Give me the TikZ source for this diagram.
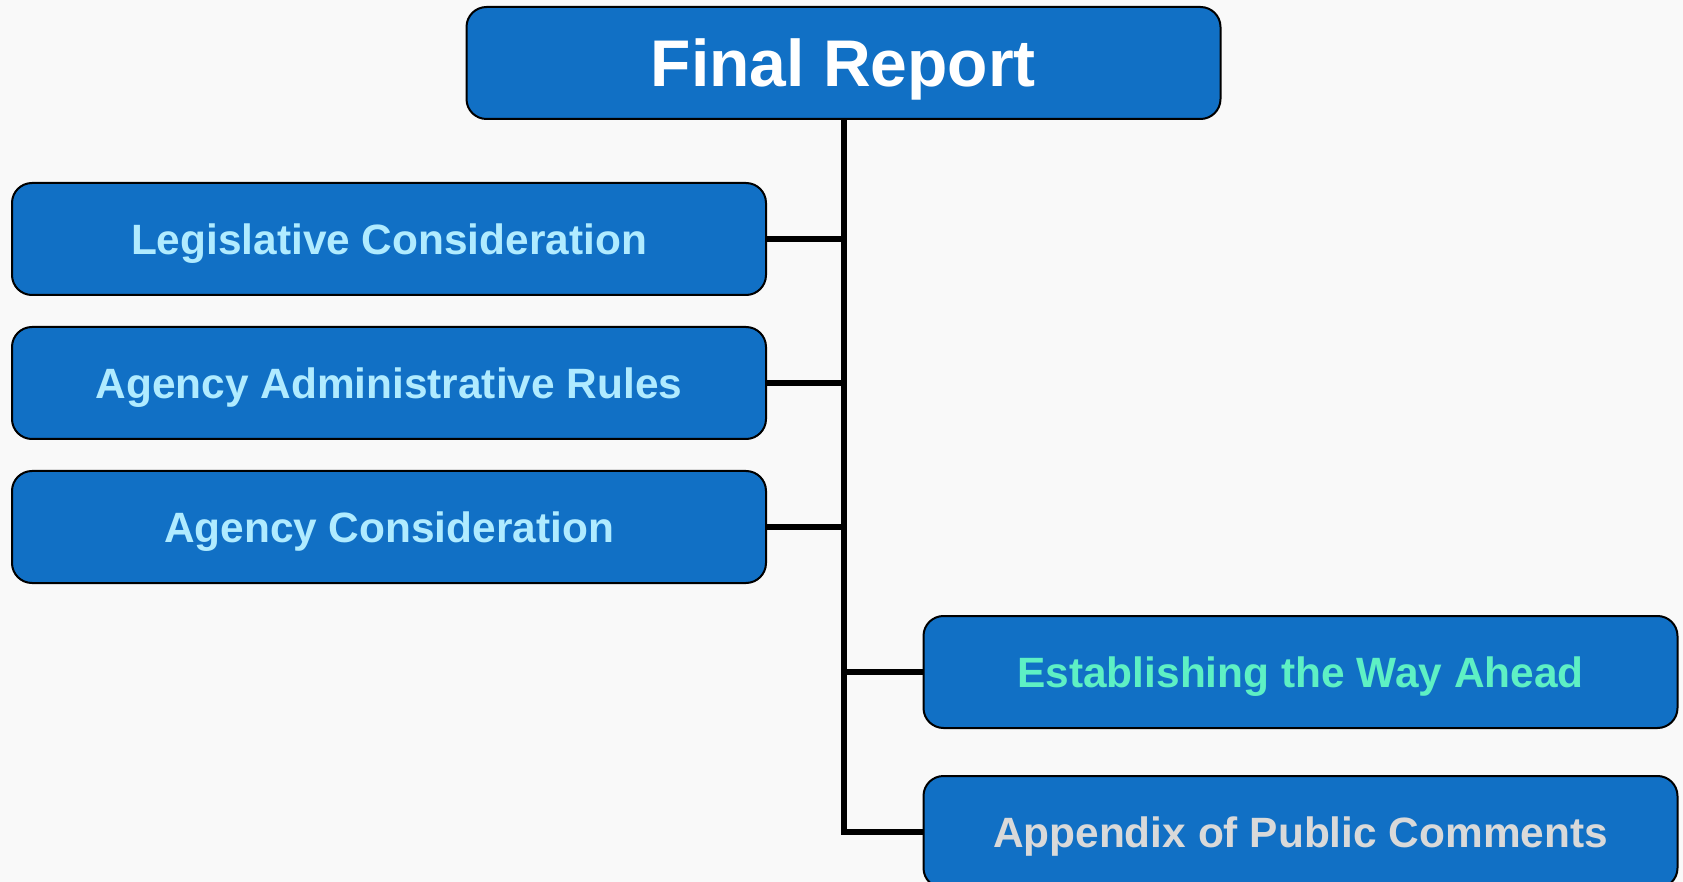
\documentclass[tikz,border=0pt]{standalone}
\usepackage{fontspec}
\setmainfont{Liberation Sans}
\definecolor{bgc}{RGB}{249,249,249}
\definecolor{boxblue}{RGB}{17,112,197}
\definecolor{txtcyan}{RGB}{176,235,255}
\definecolor{txtgreen}{RGB}{94,240,196}
\definecolor{txtgray}{RGB}{217,217,217}
\tikzset{
  box/.style={draw=black, line width=1pt, fill=boxblue, rounded corners=10pt,
    minimum width=377pt, minimum height=56pt, inner sep=0pt,
    font=\fontsize{21.2pt}{24pt}\selectfont\bfseries, text height=15.2pt, text depth=0pt},
  titlebox/.style={box, font=\fontsize{33pt}{38pt}\selectfont\bfseries, text=white, text height=23.6pt},
  conn/.style={draw=black, line width=3pt}
}
\begin{document}
\begin{tikzpicture}[x=0.5pt,y=-0.5pt]
\useasboundingbox (0,0) rectangle (1683,882);
\fill[bgc] (0,0) rectangle (1683,882);
\clip (0,0) rectangle (1683,882);
\node[titlebox] (top) at (843.5,63) {Final Report};
\node[box, text=txtcyan] (b1) at (389,239) {Legislative Consideration};
\node[box, text=txtcyan] (b2) at (389,383) {Agency Administrative Rules};
\node[box, text=txtcyan] (b3) at (389,527) {Agency Consideration};
\node[box, text=txtgreen] (b4) at (1300.5,672) {Establishing the Way Ahead};
\node[box, text=txtgray] (b5) at (1300.5,832) {Appendix of Public Comments};
\draw[conn] (top.south) |- (b5.west);
\draw[conn] (b1.east) -- (b1.east -| top.south);
\draw[conn] (b2.east) -- (b2.east -| top.south);
\draw[conn] (b3.east) -- (b3.east -| top.south);
\draw[conn] (b4.west) -- (b4.west -| top.south);
\end{tikzpicture}
\end{document}
